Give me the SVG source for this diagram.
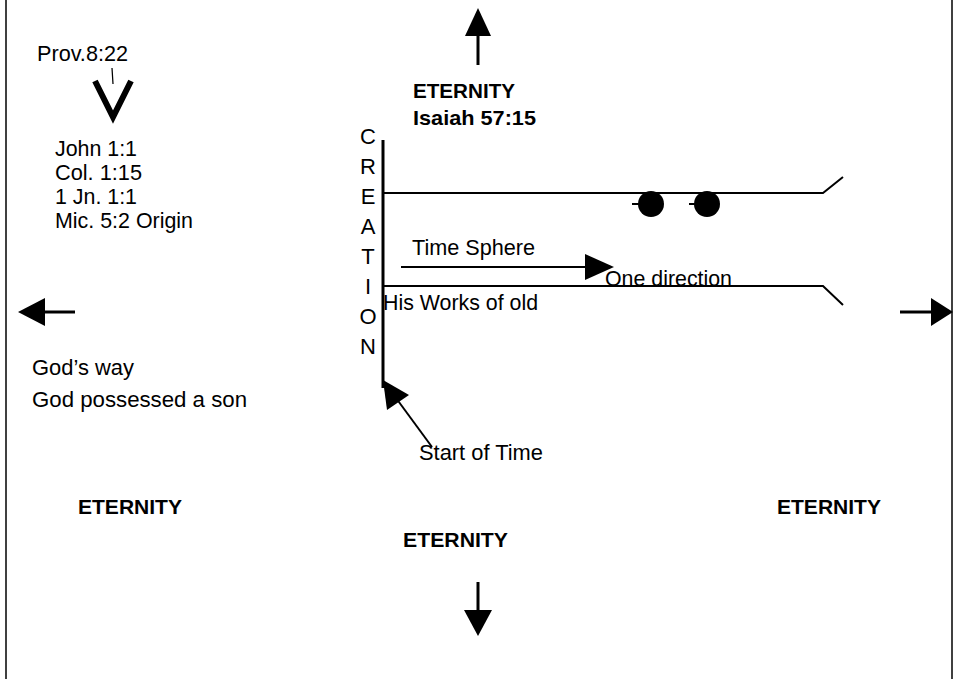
<svg xmlns="http://www.w3.org/2000/svg" width="956" height="679" viewBox="0 0 956 679">
<style>
.t{font-family:"Liberation Sans",Arial,sans-serif;font-size:22px;fill:#000}
.b{font-family:"Liberation Sans",Arial,sans-serif;font-size:21px;font-weight:bold;fill:#000}
.ln{stroke:#000;fill:none}
.ah{fill:#000;stroke:none}
</style>
<rect width="956" height="679" fill="#fff"/>
<g id="borders">
<line class="ln" x1="6" y1="0" x2="6" y2="679" stroke-width="1.5"/>
<line class="ln" x1="952" y1="0" x2="952" y2="679" stroke-width="1.5"/>
</g>
<g id="connectors">
<line class="ln" x1="478" y1="34" x2="478" y2="65" stroke-width="3"/>
<polygon class="ah" points="478,8 465,36 491,36"/>
<line class="ln" x1="478" y1="582" x2="478" y2="612" stroke-width="3"/>
<polygon class="ah" points="464,610 492,610 478,636"/>
<line class="ln" x1="44" y1="312" x2="75" y2="312" stroke-width="3"/>
<polygon class="ah" points="18,312 45,298 45,326"/>
<line class="ln" x1="900" y1="312" x2="932" y2="312" stroke-width="3"/>
<polygon class="ah" points="931,298 931,326 953,312"/>
<line class="ln" x1="401" y1="267" x2="590" y2="267" stroke-width="2"/>
<polygon class="ah" points="585,254 585,280 614,267"/>
<line class="ln" x1="396" y1="398" x2="432" y2="447" stroke-width="2"/>
<polygon class="ah" points="383,380 409,395 387,410"/>
<polyline class="ln" points="95,81 113,117 131,81" stroke-width="6" stroke-miterlimit="10"/>
<line class="ln" x1="112" y1="68" x2="113" y2="84" stroke-width="1.2"/>
</g>
<g id="creation">
<line class="ln" x1="383" y1="140" x2="383" y2="388" stroke-width="3"/>
<text class="t" text-anchor="middle"><tspan x="368" y="144">C</tspan><tspan x="368" y="174">R</tspan><tspan x="368" y="204">E</tspan><tspan x="368" y="234">A</tspan><tspan x="368" y="264">T</tspan><tspan x="368" y="294">I</tspan><tspan x="368" y="324">O</tspan><tspan x="368" y="354">N</tspan></text>
</g>
<g id="time-sphere">
<polyline class="ln" points="383,193 823,193 843,177" stroke-width="2"/>
<polyline class="ln" points="383,286 823,286 843,305" stroke-width="2"/>
<circle cx="651" cy="204" r="13" fill="#000"/>
<circle cx="707" cy="204" r="13" fill="#000"/>
<line class="ln" x1="632" y1="204" x2="642" y2="204" stroke-width="2"/>
<line class="ln" x1="689" y1="204" x2="698" y2="204" stroke-width="2"/>
<text class="t" x="412" y="255" textLength="123" lengthAdjust="spacingAndGlyphs">Time Sphere</text>
<text class="t" x="605" y="286" textLength="127" lengthAdjust="spacingAndGlyphs">One direction</text>
<text class="t" x="383" y="310" textLength="155" lengthAdjust="spacingAndGlyphs">His Works of old</text>
</g>
<g id="prov">
<text class="t" x="37" y="61" textLength="91" lengthAdjust="spacingAndGlyphs">Prov.8:22</text>
<text class="t" x="55" y="156" textLength="82" lengthAdjust="spacingAndGlyphs">John 1:1</text>
<text class="t" x="55" y="180" textLength="87" lengthAdjust="spacingAndGlyphs">Col. 1:15</text>
<text class="t" x="55" y="204" textLength="82" lengthAdjust="spacingAndGlyphs">1 Jn. 1:1</text>
<text class="t" x="55" y="228" textLength="138" lengthAdjust="spacingAndGlyphs">Mic. 5:2 Origin</text>
</g>
<g id="gods-way">
<text class="t" x="32" y="375" textLength="102" lengthAdjust="spacingAndGlyphs">God’s way</text>
<text class="t" x="32" y="407" textLength="215" lengthAdjust="spacingAndGlyphs">God possessed a son</text>
</g>
<g id="eternity-top">
<text class="b" x="413" y="98" textLength="102" lengthAdjust="spacingAndGlyphs">ETERNITY</text>
<text class="b" x="413" y="125" textLength="123" lengthAdjust="spacingAndGlyphs">Isaiah 57:15</text>
</g>
<g id="start-of-time"><text class="t" x="419" y="460" textLength="124" lengthAdjust="spacingAndGlyphs">Start of Time</text></g>
<g id="eternity-left"><text class="b" x="78" y="514" textLength="104" lengthAdjust="spacingAndGlyphs">ETERNITY</text></g>
<g id="eternity-right"><text class="b" x="777" y="514" textLength="104" lengthAdjust="spacingAndGlyphs">ETERNITY</text></g>
<g id="eternity-bottom"><text class="b" x="403" y="547" textLength="105" lengthAdjust="spacingAndGlyphs">ETERNITY</text></g>
</svg>
